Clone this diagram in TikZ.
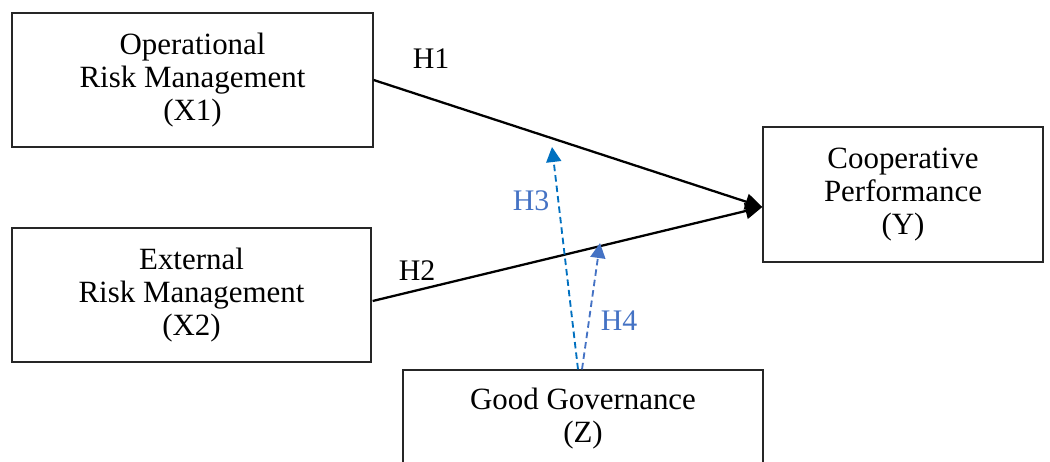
\documentclass[tikz,border=0pt]{standalone}
\usepackage{fontspec}
\setmainfont{Liberation Serif}
\usetikzlibrary{calc,arrows.meta}
\definecolor{hdark}{RGB}{0,112,192}
\definecolor{hlight}{RGB}{68,114,196}
\tikzset{
  varbox/.style={draw=black!85,line width=0.8pt,align=center,inner sep=0pt,
    font=\fontsize{17.6}{18.8}\selectfont},
  hlabel/.style={font=\fontsize{17}{20}\selectfont},
  mainarrow/.style={line width=1.3pt,-{Triangle[length=0.34cm,width=0.32cm]}},
  modarrow/.style={line width=1.05pt,dash pattern=on 0.13cm off 0.08cm,
    -{Triangle[length=0.3cm,width=0.3cm]}}
}

\begin{document}
\begin{tikzpicture}[x=0.02cm,y=-0.02cm]
    \useasboundingbox (0,0) rectangle (1050,462);
    \clip (0,0) rectangle (1050,462);

    \node[varbox,minimum width=7.22cm,minimum height=2.68cm] (x1) at (192.5,80)
      {Operational\\Risk Management\\(X1)};
    \node[varbox,minimum width=7.18cm,minimum height=2.68cm] (x2) at (191.5,295)
      {External\\Risk Management\\(X2)};
    \node[varbox,minimum width=5.6cm,minimum height=2.7cm] (y) at (903,194.5)
      {Cooperative\\Performance\\(Y)};
    \node[varbox,minimum width=7.2cm,minimum height=1.96cm] (z) at (583,419)
      {Good Governance\\(Z)};

    \coordinate (ytip) at ($(y.west)+(0,12.5)$);
    \coordinate (x2out) at ($(x2.east)+(1,6)$);
    \coordinate (h3start) at ($(z.north)+(-5,0)$);
    \coordinate (h4start) at ($(z.north)+(-1,0)$);
    \coordinate (h3tip) at (552,147);
    \coordinate (h4tip) at (600,243);

    \draw[mainarrow] (x1.east) -- (ytip);
    \draw[mainarrow] (x2out) -- (ytip);
    \draw[modarrow,hdark] (h3start) -- (h3tip);
    \draw[modarrow,hlight] (h4start) -- (h4tip);

    \node[hlabel] (lh1) at (431,59) {H1};
    \node[hlabel] (lh2) at (417,271) {H2};
    \node[hlabel,text=hlight] (lh3) at (531,201) {H3};
    \node[hlabel,text=hlight] (lh4) at (619,321) {H4};

  \end{tikzpicture}
\end{document}
